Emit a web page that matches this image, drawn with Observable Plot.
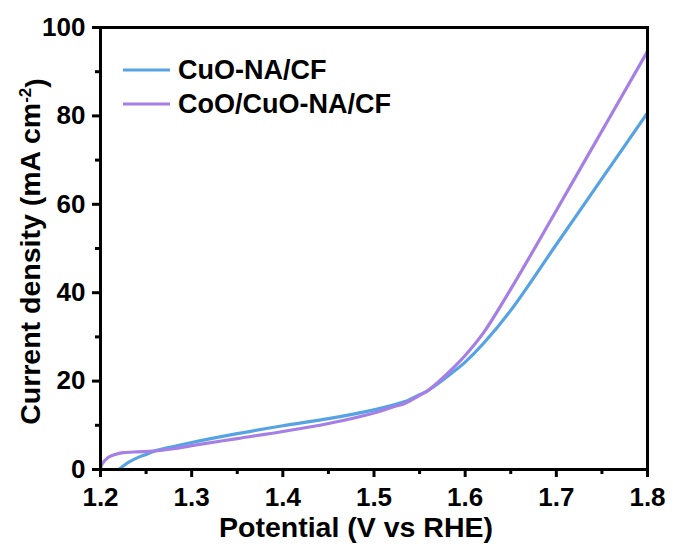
<!DOCTYPE html>
<html>
<head>
<meta charset="utf-8">
<script src="https://cdn.jsdelivr.net/npm/d3@7"></script>
<script src="https://cdn.jsdelivr.net/npm/@observablehq/plot@0.6"></script>
<style>
  html, body { margin: 0; padding: 0; background: #fff; }
  #chart { width: 673px; height: 547px; }
</style>
</head>
<body>
<div id="chart"></div>
<script>
// LSV polarization curves (current density vs potential)
const seriesNames = ["CuO-NA/CF", "CoO/CuO-NA/CF"];
const seriesColors = ["#56a3e4", "#a57fe6"];

// CuO-NA/CF
const cuoPotential = [1.220, 1.225, 1.231, 1.242, 1.250, 1.258, 1.280, 1.300, 1.350, 1.400, 1.450, 1.500, 1.520, 1.533, 1.540, 1.550, 1.558, 1.570, 1.584, 1.600, 1.620, 1.650, 1.700, 1.750, 1.800];
const cuoCurrent   = [0.0,   0.8,   1.65,  2.8,   3.4,   4.1,   5.2,   6.1,   8.1,   9.9,   11.5,  13.5,  14.5,  15.3,  15.9,  16.9,  17.7,  19.4,  21.6,  24.3,  28.5,  36.0,  50.9,  65.8,  80.7];

// CoO/CuO-NA/CF
const cooPotential = [1.200, 1.201, 1.203, 1.206, 1.210, 1.216, 1.225, 1.240, 1.258, 1.280, 1.300, 1.350, 1.400, 1.450, 1.500, 1.520, 1.533, 1.540, 1.550, 1.558, 1.570, 1.584, 1.600, 1.620, 1.650, 1.700, 1.750, 1.800];
const cooCurrent   = [0.0,   0.9,   1.6,   2.3,   2.9,   3.4,   3.8,   4.0,   4.15,  4.7,   5.4,   7.0,   8.6,   10.4,  12.8,  14.1,  14.9,  15.6,  16.8,  17.7,  19.7,  22.4,  25.8,  30.9,  40.8,  58.6,  76.6,  94.6];

// axis ticks
const xMajor = [1.2, 1.3, 1.4, 1.5, 1.6, 1.7, 1.8];
const xMinor = [1.25, 1.35, 1.45, 1.55, 1.65, 1.75];
const yMajor = [0, 20, 40, 60, 80, 100];
const yMinor = [10, 30, 50, 70, 90];

const xTitle = "Potential (V vs RHE)";
const yTitle = "Current density (mA cm-2)";

const rows = [
  ...cuoPotential.map((v, i) => ({potential: v, current: cuoCurrent[i], series: seriesNames[0]})),
  ...cooPotential.map((v, i) => ({potential: v, current: cooCurrent[i], series: seriesNames[1]}))
];

const font = "'Liberation Sans', Arial, Helvetica, sans-serif";
const axisStroke = 3;

const chart = Plot.plot({
  width: 673,
  height: 547,
  marginLeft: 100,
  marginRight: 26,
  marginTop: 27,
  marginBottom: 78,
  style: {fontFamily: font, fontWeight: "bold", fontSize: "26px", color: "#000", background: "#fff", overflow: "visible"},
  x: {domain: [1.2, 1.8]},
  y: {domain: [0, 100]},
  color: {domain: seriesNames, range: seriesColors},
  marks: [
    Plot.line(rows, {x: "potential", y: "current", z: "series", stroke: "series", strokeWidth: 3.2, curve: "catmull-rom"}),
    Plot.frame({stroke: "#000", strokeWidth: axisStroke}),
    Plot.axisX(xMajor, {tickSize: 8, tickPadding: 10, strokeWidth: axisStroke, tickFormat: d => d.toFixed(1), label: null, fontSize: 26, fontWeight: "bold"}),
    Plot.axisX(xMinor, {tickSize: 5, strokeWidth: axisStroke, tickFormat: () => "", label: null}),
    Plot.axisY(yMajor, {tickSize: 8, tickPadding: 7, strokeWidth: axisStroke, tickFormat: d => String(d), label: null, fontSize: 26, fontWeight: "bold"}),
    Plot.axisY(yMinor, {tickSize: 5, strokeWidth: axisStroke, tickFormat: () => "", label: null}),
    Plot.text([xTitle], {text: d => d, frameAnchor: "bottom", textAnchor: "middle", dx: -18, dy: 58, lineAnchor: "middle", fontSize: 28.5, fontWeight: "bold"}),
    Plot.text([yTitle], {text: d => d, frameAnchor: "left", textAnchor: "middle", dx: -70, dy: 3, rotate: -90, lineAnchor: "middle", fontSize: 28.5, fontWeight: "bold"})
  ]
});

document.getElementById("chart").appendChild(chart);

const svg = d3.select(chart);

// superscript exponent in the y title
svg.selectAll("text").filter(function () { return this.textContent === yTitle; })
  .each(function () {
    const t = d3.select(this);
    t.text(null);
    t.append("tspan").text("Current density (mA cm");
    t.append("tspan").attr("dy", "-0.5em").attr("font-size", "17px").text("-2");
    t.append("tspan").attr("dy", "0.5em").text(")");
  });

// legend in the upper-left corner of the frame
const legend = svg.append("g")
  .attr("font-family", font).attr("font-weight", "bold").attr("font-size", 27)
  .attr("text-anchor", "start");
seriesNames.forEach((name, i) => {
  const y = 70 + i * 34;
  legend.append("line")
    .attr("x1", 123).attr("x2", 170).attr("y1", y).attr("y2", y)
    .attr("stroke", seriesColors[i]).attr("stroke-width", 3.2);
  legend.append("text")
    .attr("x", 178).attr("y", y).attr("dy", "0.35em")
    .attr("text-anchor", "start")
    .attr("fill", "#000").text(name);
});
</script>
</body>
</html>
